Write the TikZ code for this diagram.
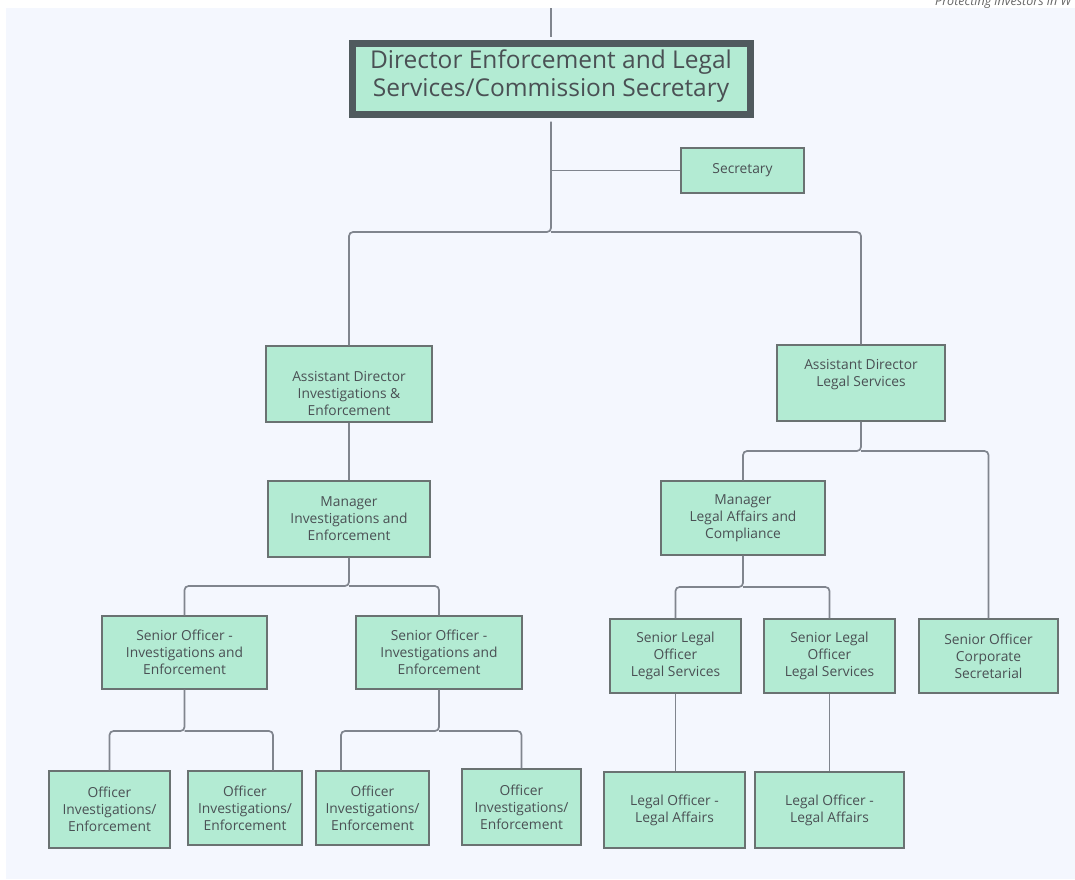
\documentclass[tikz,border=0pt]{standalone}
\usepackage{fontspec}
\setmainfont{Open Sans}
\usetikzlibrary{calc}
\definecolor{bgc}{HTML}{F4F7FE}
\definecolor{mint}{HTML}{B3EBD3}
\definecolor{boxline}{HTML}{6A7272}
\definecolor{txtc}{HTML}{4A5054}
\definecolor{topline}{HTML}{505A5E}
\definecolor{connc}{HTML}{80858E}
\tikzset{
  box/.style={draw=boxline, fill=mint, line width=1.4pt, inner sep=0pt, align=center, text=txtc,
    font=\fontsize{13.8}{17}\selectfont},
  topbox/.style={draw=topline, fill=mint, line width=7pt, inner sep=0pt},
  txt/.style={align=center, text=txtc, inner sep=0pt, font=\fontsize{13.8}{17}\selectfont},
  conn/.style={draw=connc, line width=1.7pt, rounded corners=4pt},
}
\begin{document}
\begin{tikzpicture}[x=1pt,y=-1pt]
\useasboundingbox (0,0) rectangle (1075,879);
\clip (0,0) rectangle (1075,879);
\fill[bgc] (6,8) rectangle (1075,879);
\node[anchor=base west, text=gray!80!black, inner sep=0pt, font=\fontsize{12.5}{14}\itshape] (tag) at (935,5) {Protecting investors in W};
% boxes
\node[topbox, minimum width=398pt, minimum height=71pt] (top) at (551,79) {};
\node[txt, font=\fontsize{24.5}{28}\selectfont] (topt) at (551,76) {Director Enforcement and Legal\\Services/Commission Secretary};
\node[box, minimum width=123pt, minimum height=45pt] (sec) at (742.5,170.5) {Secretary};
\node[box, minimum width=166pt, minimum height=76pt] (ad1) at (349,384) {};
\node[txt] (ad1t) at (349,393) {Assistant Director\\Investigations \&\\Enforcement};
\node[box, minimum width=168pt, minimum height=76pt] (ad2) at (861,383) {};
\node[txt] (ad2t) at (861,374.5) {Assistant Director\\Legal Services};
\node[box, minimum width=162pt, minimum height=76pt] (m1) at (349,519) {Manager\\Investigations and\\Enforcement};
\node[box, minimum width=164pt, minimum height=74pt] (m2) at (743,518) {Manager\\Legal Affairs and\\Compliance};
\node[box, minimum width=165pt, minimum height=73pt] (so1) at (184.5,652.5) {Senior Officer -\\Investigations and\\Enforcement};
\node[box, minimum width=166pt, minimum height=73pt] (so2) at (439,652.5) {Senior Officer -\\Investigations and\\Enforcement};
\node[box, minimum width=131pt, minimum height=74pt] (slo1) at (675.5,656) {Senior Legal\\Officer\\Legal Services};
\node[box, minimum width=131pt, minimum height=74pt] (slo2) at (829.5,656) {Senior Legal\\Officer\\Legal Services};
\node[box, minimum width=139pt, minimum height=74pt] (sosec) at (988.5,656) {Senior Officer\\Corporate\\Secretarial};
\node[box, minimum width=121pt, minimum height=77pt] (o1) at (109.5,809.5) {Officer\\Investigations/\\Enforcement};
\node[box, minimum width=114pt, minimum height=74pt] (o2) at (245,808) {Officer\\Investigations/\\Enforcement};
\node[box, minimum width=113pt, minimum height=74pt] (o3) at (372.5,808) {Officer\\Investigations/\\Enforcement};
\node[box, minimum width=119pt, minimum height=76pt] (o4) at (521.5,807) {Officer\\Investigations/\\Enforcement};
\node[box, minimum width=141pt, minimum height=76pt] (lo1) at (674.5,810) {Legal Officer -\\Legal Affairs};
\node[box, minimum width=149pt, minimum height=76pt] (lo2) at (829.5,810) {Legal Officer -\\Legal Affairs};
% connectors
\coordinate (ctop) at (551,8);
\draw[conn] (ctop) -- ([yshift=3.5pt]top.north);
\coordinate (j0) at (551,170.5);
\coordinate (j1) at (551,232);
\draw[conn] ([yshift=-3.5pt]top.south) -- (j1) -| (ad1.north);
\draw[conn] (j1) -| (ad2.north);
\draw[conn] (j0) -- (sec.west);
\draw[conn] (ad1.south) -- (m1.north);
\coordinate (j2) at (349,586);
\draw[conn] (m1.south) -- (j2) -| (so1.north);
\draw[conn] (j2) -| (so2.north);
\coordinate (j3) at (184.5,731);
\draw[conn] (so1.south) -- (j3) -| (o1.north);
\draw[conn] (j3) -| ([xshift=28pt]o2.north);
\coordinate (j4) at (439,731);
\draw[conn] (so2.south) -- (j4) -| ([xshift=-31.5pt]o3.north);
\draw[conn] (j4) -| (o4.north);
\coordinate (j5) at (861,451);
\draw[conn] (ad2.south) -- (j5) -| (m2.north);
\draw[conn] (j5) -| (sosec.north);
\coordinate (j6) at (743,587);
\draw[conn] (m2.south) -- (j6) -| (slo1.north);
\draw[conn] (j6) -| (slo2.north);
\draw[conn] (slo1.south) -- (slo1.south |- lo1.north);
\draw[conn] (slo2.south) -- (slo2.south |- lo2.north);
\end{tikzpicture}
\end{document}
